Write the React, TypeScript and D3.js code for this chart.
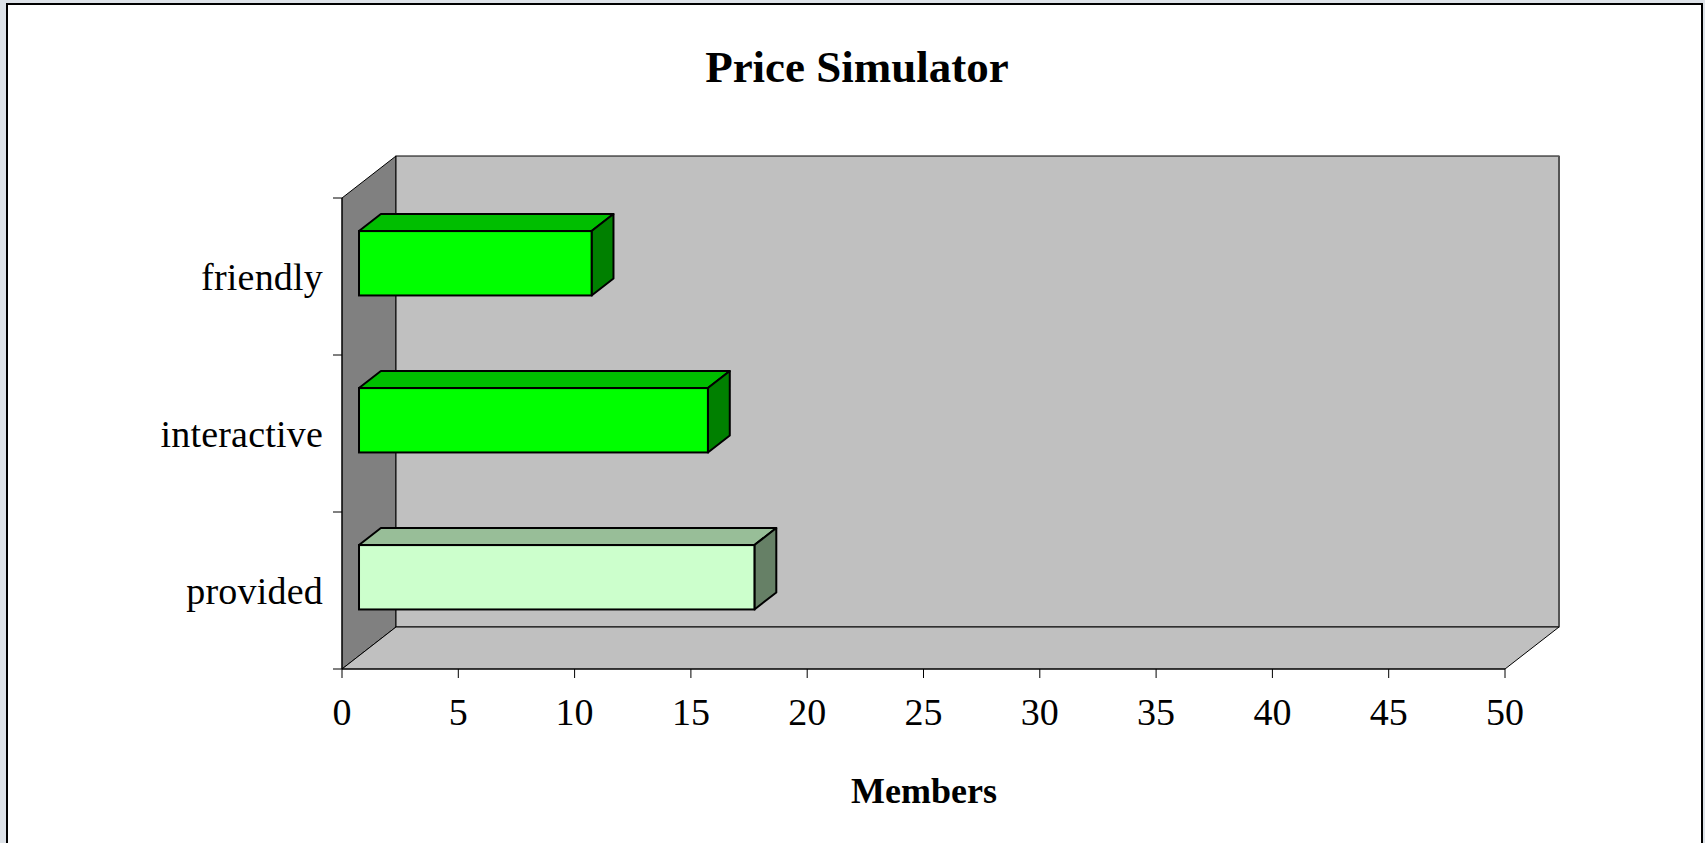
import React, { useEffect, useRef } from "react";
import * as d3 from "d3";

const categories = ["friendly", "interactive", "provided"];
const members = [10, 15, 17];
const xTicks = [0, 5, 10, 15, 20, 25, 30, 35, 40, 45, 50];
const faceColors = ["#00FF00", "#00FF00", "#CCFFCC"];
const chartTitle = "Price Simulator";
const xTitle = "Members";

const W = 1705;
const H = 843;

const App = () => {
  const svgRef = useRef<SVGSVGElement>(null);

  useEffect(() => {
    const svg = d3.select(svgRef.current);
    svg.selectAll("*").remove();

    // front plane of the plot
    const left = 342;
    const right = 1505;
    const top = 198;
    const bottom = 669;
    // depth of the 3d box
    const dx = 54;
    const dy = -42;

    const x = d3.scaleLinear().domain([0, 50]).range([left, right]);
    const y = d3.scaleBand().domain(categories).range([top, bottom]).padding(0);

    // page background behind the frame
    svg.append("rect").attr("width", W).attr("height", H).attr("fill", "#dde2e8");
    svg
      .append("rect")
      .attr("x", 7)
      .attr("y", 4)
      .attr("width", 1695)
      .attr("height", H + 10)
      .attr("fill", "#fff")
      .attr("stroke", "#000")
      .attr("stroke-width", 2);

    const poly = (pts: number[][]) => "M" + pts.map((p) => p.join(",")).join("L") + "Z";

    // side wall
    svg
      .append("path")
      .attr("d", poly([[left, top], [left + dx, top + dy], [left + dx, bottom + dy], [left, bottom]]))
      .attr("fill", "#808080")
      .attr("stroke", "#000")
      .attr("stroke-width", 1);

    // back wall
    svg
      .append("rect")
      .attr("x", left + dx)
      .attr("y", top + dy)
      .attr("width", right - left)
      .attr("height", bottom - top)
      .attr("fill", "#C0C0C0")
      .attr("stroke", "#000")
      .attr("stroke-width", 1);
    svg
      .append("line")
      .attr("x1", right + dx)
      .attr("x2", right + dx)
      .attr("y1", top + dy)
      .attr("y2", bottom + dy)
      .attr("stroke", "#555")
      .attr("stroke-width", 2);

    // floor
    svg
      .append("path")
      .attr("d", poly([[left, bottom], [left + dx, bottom + dy], [right + dx, bottom + dy], [right, bottom]]))
      .attr("fill", "#C0C0C0")
      .attr("stroke", "#000")
      .attr("stroke-width", 1);

    // axes ticks
    const yTickPos = categories.map((c) => y(c)!).concat([bottom]);
    svg
      .append("g")
      .selectAll("line")
      .data(yTickPos)
      .join("line")
      .attr("x1", left - 9)
      .attr("x2", left)
      .attr("y1", (d) => d)
      .attr("y2", (d) => d)
      .attr("stroke", "#000");

    svg
      .append("g")
      .selectAll("line")
      .data(xTicks)
      .join("line")
      .attr("x1", (d) => x(d))
      .attr("x2", (d) => x(d))
      .attr("y1", bottom)
      .attr("y2", bottom + 9)
      .attr("stroke", "#000");

    svg
      .append("line")
      .attr("x1", left)
      .attr("x2", left)
      .attr("y1", top)
      .attr("y2", bottom)
      .attr("stroke", "#000");
    svg
      .append("line")
      .attr("x1", left)
      .attr("x2", right)
      .attr("y1", bottom)
      .attr("y2", bottom)
      .attr("stroke", "#000");

    // bars, sitting in the middle of the depth
    const f1 = 0.315;
    const f2 = 0.72;
    const ox1 = dx * f1;
    const oy1 = dy * f1;
    const ox2 = dx * f2;
    const oy2 = dy * f2;
    const barH = y.bandwidth() * 0.41;

    const bars = svg
      .append("g")
      .selectAll("g")
      .data(categories.map((c, i) => ({ c, v: members[i], col: faceColors[i] })))
      .join("g");

    const geom = (d: { c: string; v: number }) => {
      const cy = y(d.c)! + y.bandwidth() / 2 + oy1;
      const x0 = x(0) + ox1;
      const x1 = x(d.v) + ox1;
      return { x0, x1, y0: cy - barH / 2, y1: cy + barH / 2 };
    };
    const ddx = ox2 - ox1;
    const ddy = oy2 - oy1;

    bars
      .append("path")
      .attr("d", (d) => {
        const g = geom(d);
        return poly([[g.x0, g.y0], [g.x0 + ddx, g.y0 + ddy], [g.x1 + ddx, g.y0 + ddy], [g.x1, g.y0]]);
      })
      .attr("fill", (d) => d3.rgb(d.col).darker(0.83).formatHex())
      .attr("stroke", "#000")
      .attr("stroke-width", 2)
      .attr("stroke-linejoin", "round");

    bars
      .append("path")
      .attr("d", (d) => {
        const g = geom(d);
        return poly([[g.x1, g.y0], [g.x1 + ddx, g.y0 + ddy], [g.x1 + ddx, g.y1 + ddy], [g.x1, g.y1]]);
      })
      .attr("fill", (d) => {
        const c = d3.rgb(d.col);
        return d3.rgb(c.r * 0.5, c.g * 0.5, c.b * 0.5).formatHex();
      })
      .attr("stroke", "#000")
      .attr("stroke-width", 2)
      .attr("stroke-linejoin", "round");

    bars
      .append("rect")
      .attr("x", (d) => geom(d).x0)
      .attr("y", (d) => geom(d).y0)
      .attr("width", (d) => geom(d).x1 - geom(d).x0)
      .attr("height", barH)
      .attr("fill", (d) => d.col)
      .attr("stroke", "#000")
      .attr("stroke-width", 2);

    const font = "'Liberation Serif', 'Times New Roman', serif";

    // category labels
    svg
      .append("g")
      .selectAll("text")
      .data(categories)
      .join("text")
      .attr("x", left - 19)
      .attr("y", (d) => y(d)! + y.bandwidth() / 2 + 13)
      .attr("text-anchor", "end")
      .attr("font-family", font)
      .attr("font-size", 38)
      .attr("letter-spacing", 0.2)
      .text((d) => d);

    // value labels
    svg
      .append("g")
      .selectAll("text")
      .data(xTicks)
      .join("text")
      .attr("x", (d) => x(d))
      .attr("y", 725)
      .attr("text-anchor", "middle")
      .attr("font-family", font)
      .attr("font-size", 38)
      .text((d) => d);

    svg
      .append("text")
      .attr("x", 857)
      .attr("y", 82)
      .attr("text-anchor", "middle")
      .attr("font-family", font)
      .attr("font-weight", "bold")
      .attr("font-size", 45)
      .text(chartTitle);

    svg
      .append("text")
      .attr("x", 924)
      .attr("y", 803)
      .attr("text-anchor", "middle")
      .attr("font-family", font)
      .attr("font-weight", "bold")
      .attr("font-size", 36)
      .text(xTitle);
  }, []);

  return (
    <svg
      ref={svgRef}
      width={W}
      height={H}
      style={{ position: "absolute", left: 0, top: 0, display: "block" }}
    />
  );
};

export default App;
